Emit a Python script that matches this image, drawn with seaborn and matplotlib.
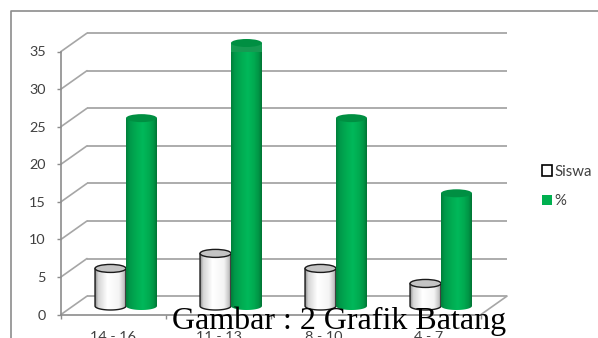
import numpy as np
import pandas as pd
import matplotlib
matplotlib.use("Agg")
import matplotlib.pyplot as plt
import seaborn as sns
from matplotlib.colors import LinearSegmentedColormap
from matplotlib.lines import Line2D
from matplotlib.patches import Ellipse, Patch, PathPatch
from matplotlib.path import Path

categories = ["14 - 16", "11 - 13", "8 - 10", "4 - 7"]
siswa = [5, 7, 5, 3]
persen = [25, 35, 25, 15]
y_ticks = [0, 5, 10, 15, 20, 25, 30, 35]

GRID = "#a6a6a6"
AXIS = "#8c8c8c"
TEXT = "#404040"
GREEN = "#00b050"

W, H = 598, 338
X0, X1, Y0, Y35 = 61, 481, 314.5, 51.5
PX_X = (X1 - X0) / 4          # pixels per category
PX_Y = (Y0 - Y35) / 35        # pixels per unit of value

sns.set_theme(style="white")
plt.rcParams["font.family"] = ["Lato", "DejaVu Sans"]

df = pd.DataFrame({
    "kelas": categories * 2,
    "seri": ["Siswa"] * 4 + ["%"] * 4,
    "nilai": siswa + persen,
})

fig = plt.figure(figsize=(W / 100, H / 100), dpi=100, facecolor="white")
ax = fig.add_axes([X0 / W, 1 - Y0 / H, (X1 - X0) / W, (Y0 - Y35) / H])
ax.patch.set_alpha(0)

sns.barplot(data=df, x="kelas", y="nilai", hue="seri", order=categories,
            hue_order=["Siswa", "%"], palette=["white", GREEN],
            width=0.59, gap=0, legend=False, ax=ax, zorder=3)
ax.set_xlim(-0.5, 3.5)
ax.set_ylim(0, 35)
ax.set_xlabel("")
ax.set_ylabel("")

# Perspective depth of the back wall and of the cylinder row, in data units
WALL_DX, WALL_DY = 26 / PX_X, 18.4 / PX_Y
BAR_DX, BAR_DY = 12.5 / PX_X, 8.5 / PX_Y
ELL_H = 8 / PX_Y

# Back wall gridlines and the receding lines on the side wall
for v in y_ticks:
    ax.plot([-0.5 + WALL_DX, 3.5 + WALL_DX], [v + WALL_DY] * 2, color=GRID,
            lw=1.3, zorder=1, clip_on=False, solid_capstyle="butt")
    ax.plot([-0.5, -0.5 + WALL_DX], [v, v + WALL_DY], color=GRID,
            lw=1.2, zorder=1, clip_on=False)
ax.plot([3.5, 3.5 + WALL_DX], [0, WALL_DY], color=GRID, lw=1.2, zorder=1,
        clip_on=False)

# Shaded cylinders on top of the seaborn bars
cmap_white = LinearSegmentedColormap.from_list(
    "w", [(0, "#8a8a8a"), (0.10, "#d4d4d4"), (0.40, "#ffffff"), (0.78, "#f4f4f4"),
          (0.94, "#c4c4c4"), (1, "#8c8c8c")])
cmap_green = LinearSegmentedColormap.from_list(
    "g", [(0, "#007f3a"), (0.12, "#00994a"), (0.35, "#00ad52"), (0.55, "#00b85a"),
          (0.75, "#00aa50"), (0.90, "#009445"), (1, "#007434")])
ramp = np.linspace(0, 1, 128)[None, :]

n = len(categories)
bars = list(ax.patches)[:2 * n]
order = sorted(range(2 * n), key=lambda i: bars[i].get_x())
for rank, i in enumerate(order):
    bar = bars[i]
    is_green = i >= n
    z = 4 + rank
    bar.set_x(bar.get_x() + BAR_DX)
    bar.set_y(BAR_DY)
    bar.set_linewidth(0)
    bar.set_zorder(z)
    bar.set_clip_on(False)
    left, w, v = bar.get_x(), bar.get_width(), bar.get_height()
    top = BAR_DY + v
    t = np.linspace(np.pi, 2 * np.pi, 40)
    xs = left + w / 2 + w / 2 * np.cos(t)
    ys = BAR_DY + ELL_H / 2 * np.sin(t)
    verts = np.vstack([[left, top], np.c_[xs, ys], [left + w, top], [left, top]])
    body = Path(verts, closed=True)
    clip = PathPatch(body, transform=ax.transData, fc="none", ec="none")
    ax.add_patch(clip)
    clip.set_clip_on(False)
    im = ax.imshow(ramp, extent=[left, left + w, BAR_DY - ELL_H, top], aspect="auto",
                   cmap=cmap_green if is_green else cmap_white, vmin=0, vmax=1,
                   zorder=z + 0.1, interpolation="bilinear")
    im.set_clip_path(clip)
    edge = "none" if is_green else "#1a1a1a"
    ax.add_patch(PathPatch(body, fc="none", ec=edge, lw=1.0, zorder=z + 0.2,
                           clip_on=False))
    ax.add_patch(Ellipse((left + w / 2, top), w, ELL_H,
                         fc="#008f42" if is_green else "#c4c4c4", ec=edge, lw=1.0,
                         zorder=z + 0.3, clip_on=False))
ax.set_xlim(-0.5, 3.5)
ax.set_ylim(0, 35)

for name in ["top", "right"]:
    ax.spines[name].set_visible(False)
for name in ["left", "bottom"]:
    ax.spines[name].set_color(AXIS)
    ax.spines[name].set_linewidth(1.2)

# Category ticks sit on the boundaries, labels in the middle of each band
ax.set_yticks(y_ticks)
ax.set_xticks(np.arange(-0.5, 4, 1))
ax.set_xticklabels([])
ax.set_xticks(range(n), categories, minor=True)
ax.tick_params(axis="x", which="major", length=3, width=1, color=AXIS, bottom=True)
ax.tick_params(axis="x", which="minor", length=0, pad=12, labelsize=10.4,
               labelcolor=TEXT)
ax.tick_params(axis="y", length=3, width=1, color=AXIS, left=True, pad=8,
               labelsize=10.4, labelcolor=TEXT)

# Chart area border, running off the page to the right and below
fig.add_artist(Line2D([1, 10.5 / W, 10.5 / W], [1 - 10.5 / H, 1 - 10.5 / H, 0],
                      transform=fig.transFigure, color=AXIS, lw=1.2))

handles = [Patch(fc="white", ec="black", lw=1.2, label="Siswa"),
           Patch(fc=GREEN, ec="none", label="%")]
fig.legend(handles=handles, loc="center left", bbox_to_anchor=(528 / W, 1 - 186.5 / H),
           frameon=False, fontsize=10.8, labelcolor=TEXT, handlelength=0.7,
           handleheight=0.7, handletextpad=0.15, labelspacing=1.05)

fig.text(172 / W, 1 - 328.5 / H, "Gambar : 2 Grafik Batang", family="Liberation Serif",
         fontsize=23, color="black", ha="left", va="baseline", zorder=20)

fig.savefig("out.png", dpi=100)
